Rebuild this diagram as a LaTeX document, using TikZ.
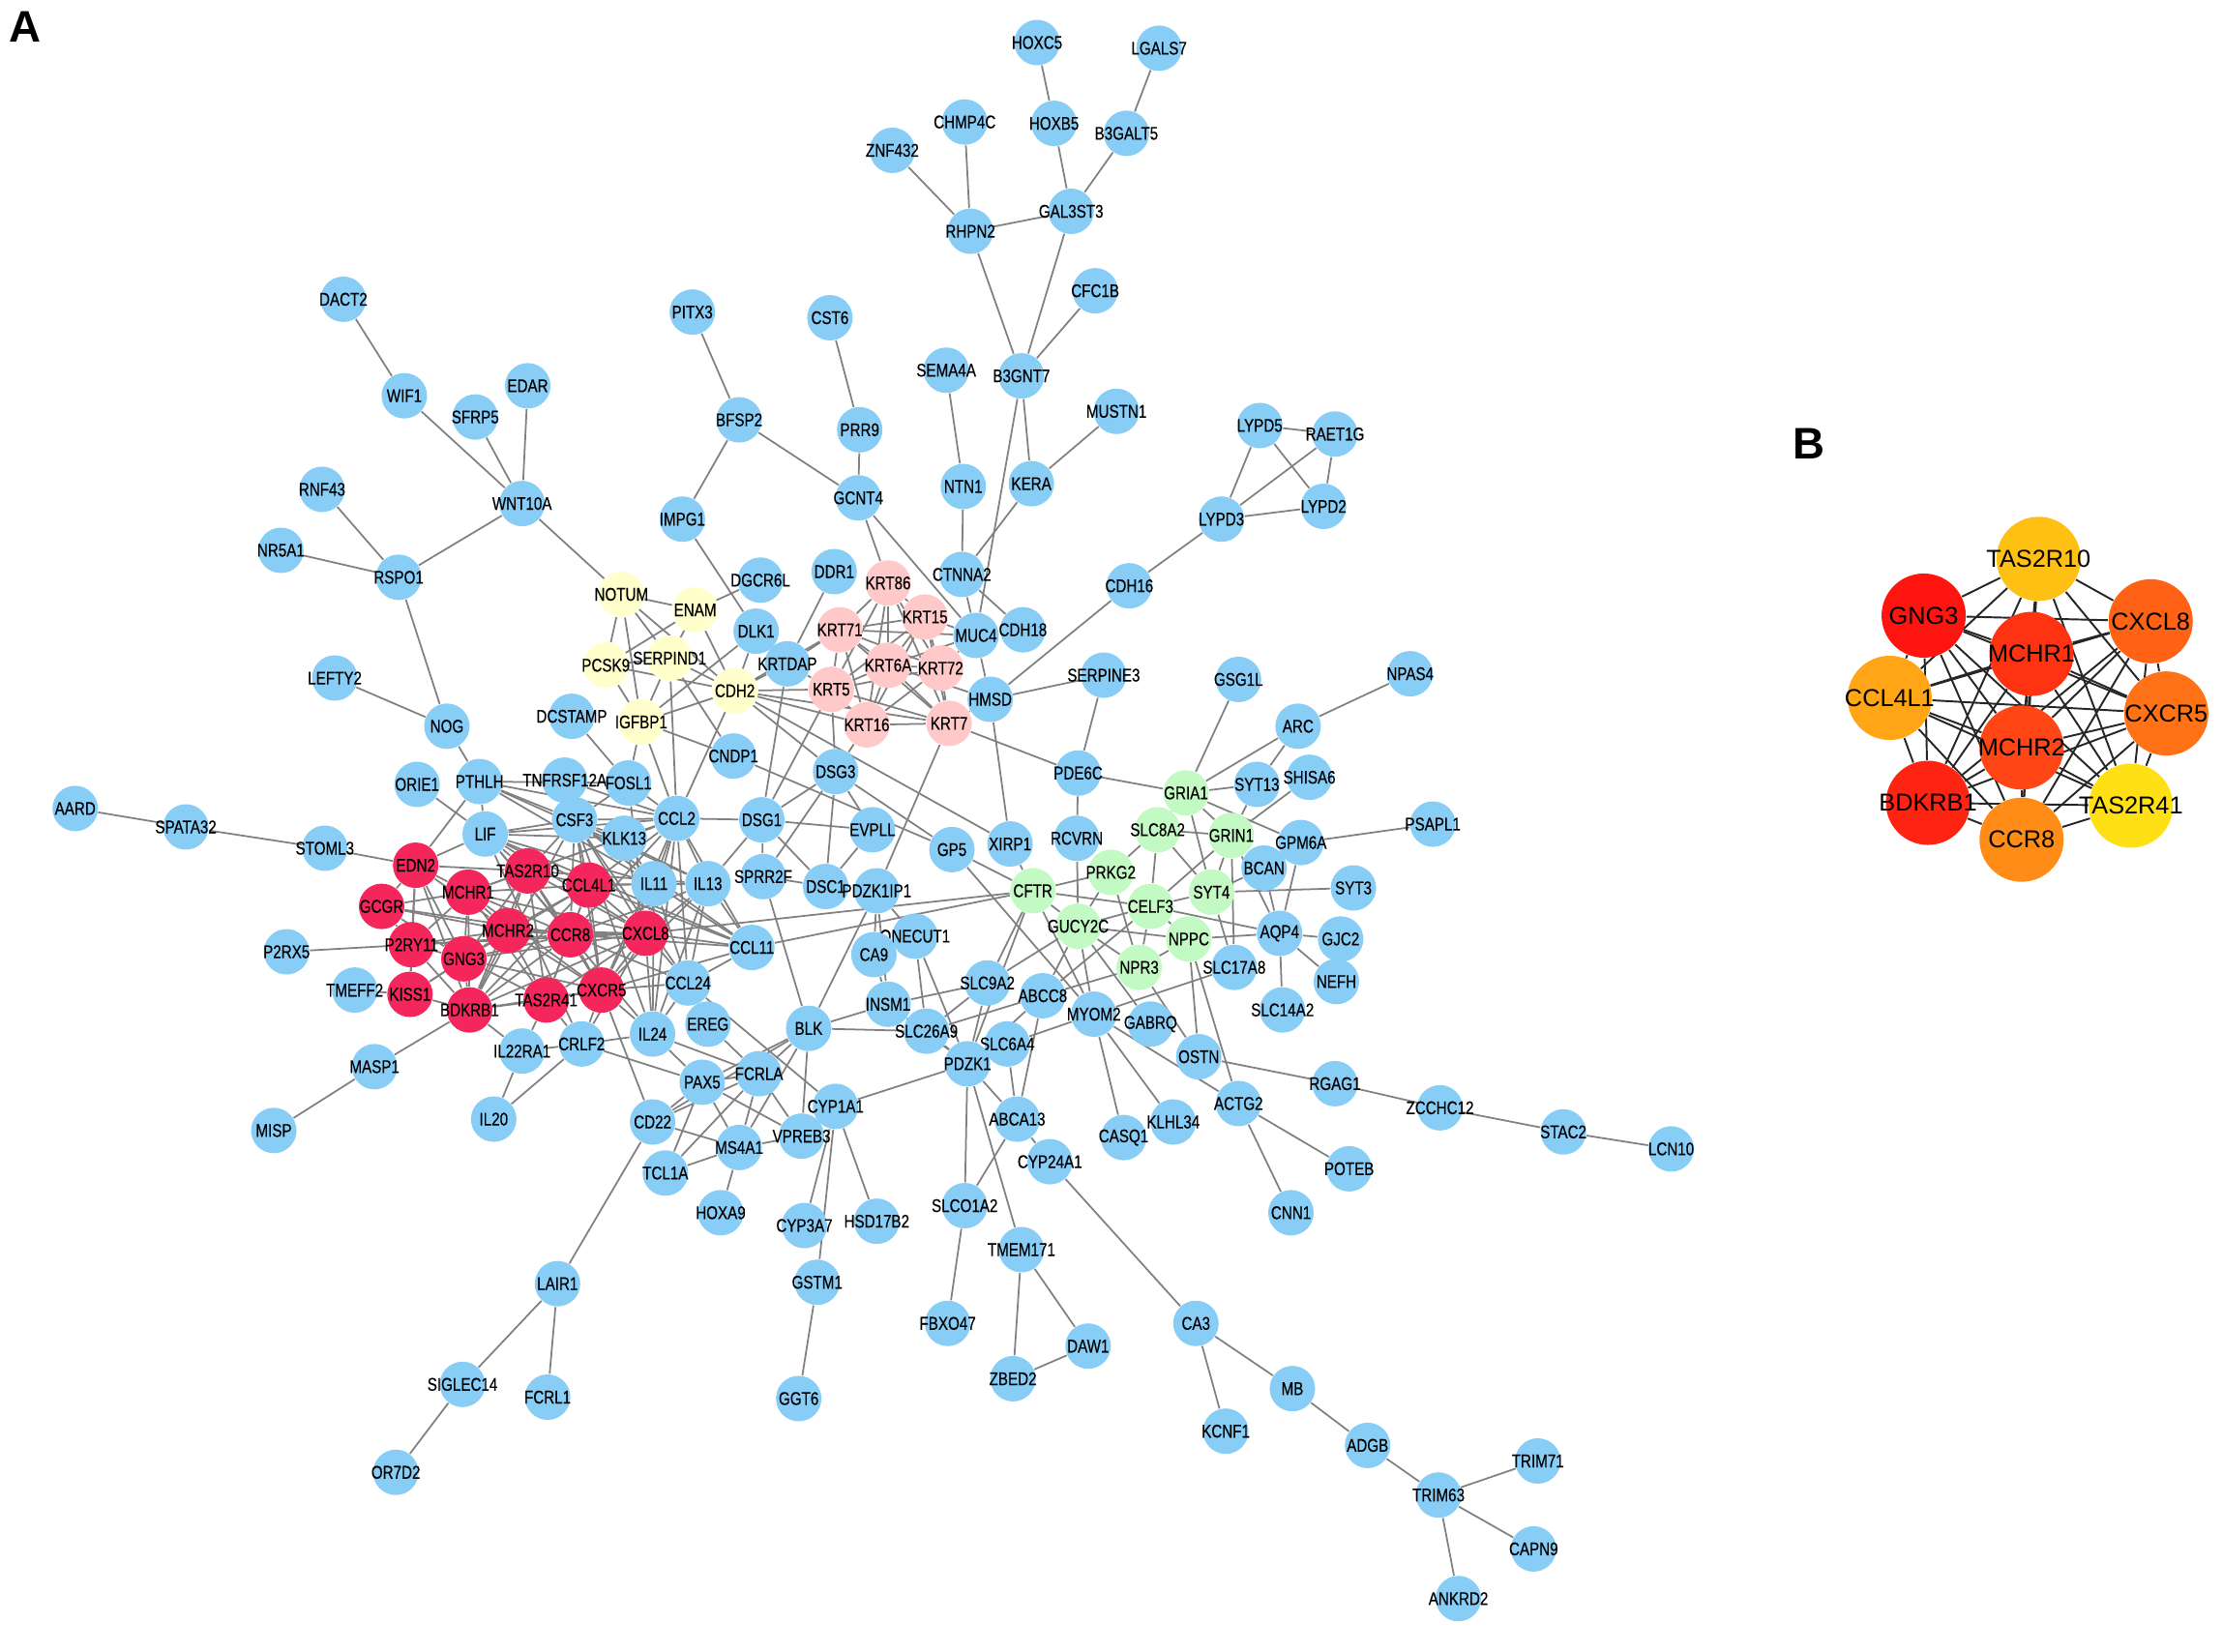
\documentclass[tikz,border=0pt]{standalone}
\usepackage{fontspec}
\setmainfont[FakeStretch=.8,FakeBold=.4]{Liberation Sans}
\newfontfamily\hubfont{Liberation Sans}
\usetikzlibrary{positioning,backgrounds}
\definecolor{genebl}{HTML}{87CDF5}
\definecolor{genered}{HTML}{F5265C}
\definecolor{geneye}{HTML}{FFFFCC}
\definecolor{genepk}{HTML}{FFC9C9}
\definecolor{genegr}{HTML}{C3FAC3}
\definecolor{edgegr}{HTML}{808080}

\begin{document}
\begin{tikzpicture}
  [x=.014665cm,y=-.014665cm,
   every node/.style={circle,fill=genebl,inner xsep=-.24cm,inner ysep=-.06cm,minimum size=.47cm,
     font=\fontsize{5.4}{5.4}\selectfont},
   rednode/.style={fill=genered},
   yenode/.style={fill=geneye},
   pknode/.style={fill=genepk},
   grnode/.style={fill=genegr},
   hubnode/.style={inner xsep=-.35cm,inner ysep=-.09cm,minimum size=.87cm,font=\hubfont\fontsize{7.2}{7.2}\selectfont},
   panellabel/.style={fill=none,font=\hubfont\bfseries\fontsize{13}{13}\selectfont}]
  \useasboundingbox (0,0) rectangle (1567,1164);

  \node[panellabel] (labA) at (18,19) {A};
  \node[panellabel] (labB) at (1275,313) {B};

  \node (HOXC5) at (731,30) {HOXC5};
  \node (LGALS7) at (817,34) {LGALS7};
  \node (CHMP4C) at (680,86) {CHMP4C};
  \node (HOXB5) at (743,87) {HOXB5};
  \node (B3GALT5) at (794,94) {B3GALT5};
  \node (ZNF432) at (629,106) {ZNF432};
  \node (GAL3ST3) at (755,149) {GAL3ST3};
  \node (RHPN2) at (684,163) {RHPN2};
  \node (CFC1B) at (772,205) {CFC1B};
  \node (DACT2) at (242,211) {DACT2};
  \node (PITX3) at (488,220) {PITX3};
  \node (CST6) at (585,224) {CST6};
  \node (SEMA4A) at (667,261) {SEMA4A};
  \node (B3GNT7) at (720,265) {B3GNT7};
  \node (WIF1) at (285,279) {WIF1};
  \node (EDAR) at (372,272) {EDAR};
  \node (SFRP5) at (335,294) {SFRP5};
  \node (BFSP2) at (521,296) {BFSP2};
  \node (MUSTN1) at (787,290) {MUSTN1};
  \node (LYPD5) at (888,300) {LYPD5};
  \node (RAET1G) at (941,306) {RAET1G};
  \node (PRR9) at (606,303) {PRR9};
  \node (KERA) at (727,341) {KERA};
  \node (NTN1) at (679,343) {NTN1};
  \node (RNF43) at (227,345) {RNF43};
  \node (GCNT4) at (605,351) {GCNT4};
  \node (LYPD2) at (933,357) {LYPD2};
  \node (LYPD3) at (861,366) {LYPD3};
  \node (WNT10A) at (368,355) {WNT10A};
  \node (IMPG1) at (481,366) {IMPG1};
  \node (NR5A1) at (198,388) {NR5A1};
  \node (RSPO1) at (281,407) {RSPO1};
  \node (CDH16) at (796,413) {CDH16};
  \node (LEFTY2) at (236,478) {LEFTY2};
  \node (SERPINE3) at (778,476) {SERPINE3};
  \node (GSG1L) at (873,479) {GSG1L};
  \node (NPAS4) at (994,475) {NPAS4};
  \node (ARC) at (915,512) {ARC};
  \node (AARD) at (53,570) {AARD};
  \node (SPATA32) at (131,583) {SPATA32};
  \node (PSAPL1) at (1010,581) {PSAPL1};
  \node (P2RX5) at (202,671) {P2RX5};
  \node (NOG) at (315,512) {NOG};
  \node (ORIE1) at (294,553) {ORIE1};
  \node (PTHLH) at (338,551) {PTHLH};
  \node (TNFRSF12A) at (398,550) {TNFRSF12A};
  \node (FOSL1) at (443,552) {FOSL1};
  \node (CSF3) at (405,578) {CSF3};
  \node (CCL2) at (477,577) {CCL2};
  \node (LIF) at (342,588) {LIF};
  \node (KLK13) at (440,591) {KLK13};
  \node (STOML3) at (229,598) {STOML3};
  \node (IL11) at (461,623) {IL11};
  \node (IL13) at (499,623) {IL13};
  \node (CCL11) at (530,668) {CCL11};
  \node (CCL24) at (485,693) {CCL24};
  \node (TMEFF2) at (250,698) {TMEFF2};
  \node (EREG) at (499,722) {EREG};
  \node (IL24) at (460,729) {IL24};
  \node (CRLF2) at (410,736) {CRLF2};
  \node (IL22RA1) at (368,741) {IL22RA1};
  \node (MASP1) at (264,752) {MASP1};
  \node (PAX5) at (495,763) {PAX5};
  \node (FCRLA) at (535,757) {FCRLA};
  \node (MISP) at (193,797) {MISP};
  \node (IL20) at (348,789) {IL20};
  \node (DGCR6L) at (536,409) {DGCR6L};
  \node (DDR1) at (588,403) {DDR1};
  \node (CTNNA2) at (678,405) {CTNNA2};
  \node (DLK1) at (533,445) {DLK1};
  \node (MUC4) at (688,448) {MUC4};
  \node (CDH18) at (721,444) {CDH18};
  \node (KRTDAP) at (555,468) {KRTDAP};
  \node (HMSD) at (698,493) {HMSD};
  \node (DCSTAMP) at (403,505) {DCSTAMP};
  \node (CNDP1) at (517,533) {CNDP1};
  \node (DSG3) at (589,544) {DSG3};
  \node (DSG1) at (537,578) {DSG1};
  \node (EVPLL) at (615,585) {EVPLL};
  \node (GP5) at (671,599) {GP5};
  \node (XIRP1) at (712,595) {XIRP1};
  \node (SPRR2F) at (538,618) {SPRR2F};
  \node (DSC1) at (582,625) {DSC1};
  \node (PDZK1IP1) at (618,628) {PDZK1IP1};
  \node (PDE6C) at (760,545) {PDE6C};
  \node (SYT13) at (886,553) {SYT13};
  \node (SHISA6) at (923,548) {SHISA6};
  \node (GPM6A) at (917,594) {GPM6A};
  \node (RCVRN) at (759,591) {RCVRN};
  \node (BCAN) at (891,612) {BCAN};
  \node (SYT3) at (954,626) {SYT3};
  \node (AQP4) at (902,658) {AQP4};
  \node (GJC2) at (945,662) {GJC2};
  \node (SLC17A8) at (870,682) {SLC17A8};
  \node (NEFH) at (942,692) {NEFH};
  \node (ONECUT1) at (645,660) {ONECUT1};
  \node (CA9) at (616,673) {CA9};
  \node (SLC9A2) at (696,693) {SLC9A2};
  \node (ABCC8) at (735,702) {ABCC8};
  \node (MYOM2) at (771,715) {MYOM2};
  \node (SLC14A2) at (904,712) {SLC14A2};
  \node (GABRQ) at (811,722) {GABRQ};
  \node (INSM1) at (626,708) {INSM1};
  \node (SLC26A9) at (653,727) {SLC26A9};
  \node (BLK) at (570,725) {BLK};
  \node (SLC6A4) at (710,736) {SLC6A4};
  \node (OSTN) at (845,745) {OSTN};
  \node (RGAG1) at (941,764) {RGAG1};
  \node (PDZK1) at (682,750) {PDZK1};
  \node (ACTG2) at (873,778) {ACTG2};
  \node (ABCA13) at (717,789) {ABCA13};
  \node (ZCCHC12) at (1015,781) {ZCCHC12};
  \node (STAC2) at (1102,798) {STAC2};
  \node (LCN10) at (1178,810) {LCN10};
  \node (CYP1A1) at (589,780) {CYP1A1};
  \node (CD22) at (460,791) {CD22};
  \node (VPREB3) at (565,801) {VPREB3};
  \node (MS4A1) at (521,809) {MS4A1};
  \node (TCL1A) at (469,827) {TCL1A};
  \node (CASQ1) at (792,802) {CASQ1};
  \node (KLHL34) at (827,791) {KLHL34};
  \node (CYP24A1) at (740,819) {CYP24A1};
  \node (POTEB) at (951,824) {POTEB};
  \node (HOXA9) at (508,855) {HOXA9};
  \node (CNN1) at (910,855) {CNN1};
  \node (SLCO1A2) at (680,850) {SLCO1A2};
  \node (HSD17B2) at (618,861) {HSD17B2};
  \node (CYP3A7) at (567,864) {CYP3A7};
  \node (TMEM171) at (720,881) {TMEM171};
  \node (GSTM1) at (576,904) {GSTM1};
  \node (LAIR1) at (393,905) {LAIR1};
  \node (FBXO47) at (668,933) {FBXO47};
  \node (CA3) at (843,933) {CA3};
  \node (DAW1) at (767,949) {DAW1};
  \node (ZBED2) at (714,972) {ZBED2};
  \node (SIGLEC14) at (326,976) {SIGLEC14};
  \node (MB) at (911,979) {MB};
  \node (FCRL1) at (386,985) {FCRL1};
  \node (GGT6) at (563,986) {GGT6};
  \node (KCNF1) at (864,1009) {KCNF1};
  \node (ADGB) at (964,1019) {ADGB};
  \node (TRIM71) at (1084,1030) {TRIM71};
  \node (OR7D2) at (279,1038) {OR7D2};
  \node (TRIM63) at (1014,1054) {TRIM63};
  \node (CAPN9) at (1081,1092) {CAPN9};
  \node (ANKRD2) at (1028,1127) {ANKRD2};

  \node[rednode] (EDN2) at (293,610) {EDN2};
  \node[rednode] (TAS2R10) at (372,614) {TAS2R10};
  \node[rednode] (CCL4L1) at (415,624) {CCL4L1};
  \node[rednode] (MCHR1) at (330,629) {MCHR1};
  \node[rednode] (GCGR) at (269,639) {GCGR};
  \node[rednode] (MCHR2) at (358,656) {MCHR2};
  \node[rednode] (CCR8) at (402,659) {CCR8};
  \node[rednode] (CXCL8) at (455,658) {CXCL8};
  \node[rednode] (P2RY11) at (290,666) {P2RY11};
  \node[rednode] (GNG3) at (327,676) {GNG3};
  \node[rednode] (KISS1) at (289,701) {KISS1};
  \node[rednode] (TAS2R41) at (385,705) {TAS2R41};
  \node[rednode] (CXCR5) at (424,698) {CXCR5};
  \node[rednode] (BDKRB1) at (331,712) {BDKRB1};

  \node[yenode] (NOTUM) at (438,419) {NOTUM};
  \node[yenode] (ENAM) at (490,430) {ENAM};
  \node[yenode] (PCSK9) at (427,469) {PCSK9};
  \node[yenode] (SERPIND1) at (472,464) {SERPIND1};
  \node[yenode] (CDH2) at (518,487) {CDH2};
  \node[yenode] (IGFBP1) at (452,509) {IGFBP1};

  \node[pknode] (KRT86) at (626,411) {KRT86};
  \node[pknode] (KRT15) at (652,435) {KRT15};
  \node[pknode] (KRT71) at (592,444) {KRT71};
  \node[pknode] (KRT6A) at (626,469) {KRT6A};
  \node[pknode] (KRT72) at (663,471) {KRT72};
  \node[pknode] (KRT5) at (586,486) {KRT5};
  \node[pknode] (KRT16) at (611,511) {KRT16};
  \node[pknode] (KRT7) at (669,510) {KRT7};

  \node[grnode] (GRIA1) at (836,559) {GRIA1};
  \node[grnode] (SLC8A2) at (816,585) {SLC8A2};
  \node[grnode] (GRIN1) at (868,589) {GRIN1};
  \node[grnode] (PRKG2) at (783,615) {PRKG2};
  \node[grnode] (CFTR) at (728,628) {CFTR};
  \node[grnode] (SYT4) at (854,629) {SYT4};
  \node[grnode] (CELF3) at (811,639) {CELF3};
  \node[grnode] (GUCY2C) at (760,653) {GUCY2C};
  \node[grnode] (NPPC) at (838,662) {NPPC};
  \node[grnode] (NPR3) at (803,682) {NPR3};

  \node[hubnode,fill={rgb,255:red,255;green,192;blue,20}] (bTAS2R10) at (1437,394) {TAS2R10};
  \node[hubnode,fill={rgb,255:red,255;green,20;blue,15}] (bGNG3) at (1356,434) {GNG3};
  \node[hubnode,fill={rgb,255:red,255;green,98;blue,20}] (bCXCL8) at (1516,438) {CXCL8};
  \node[hubnode,fill={rgb,255:red,255;green,50;blue,18}] (bMCHR1) at (1432,461) {MCHR1};
  \node[hubnode,fill={rgb,255:red,255;green,165;blue,22}] (bCCL4L1) at (1332,492) {CCL4L1};
  \node[hubnode,fill={rgb,255:red,255;green,115;blue,22}] (bCXCR5) at (1527,503) {CXCR5};
  \node[hubnode,fill={rgb,255:red,255;green,70;blue,20}] (bMCHR2) at (1425,527) {MCHR2};
  \node[hubnode,fill={rgb,255:red,255;green,35;blue,18}] (bBDKRB1) at (1359,566) {BDKRB1};
  \node[hubnode,fill={rgb,255:red,255;green,224;blue,20}] (bTAS2R41) at (1502,568) {TAS2R41};
  \node[hubnode,fill={rgb,255:red,255;green,140;blue,22}] (bCCR8) at (1425,592) {CCR8};

  \begin{pgfonlayer}{background}
  \tikzset{every path/.style={draw=edgegr,line width=.5pt}}
  \foreach \from/\to in {HOXC5/HOXB5, LGALS7/B3GALT5, HOXB5/GAL3ST3, B3GALT5/GAL3ST3,
    CHMP4C/RHPN2, ZNF432/RHPN2, GAL3ST3/RHPN2, GAL3ST3/B3GNT7, RHPN2/B3GNT7, CFC1B/B3GNT7,
    SEMA4A/NTN1, B3GNT7/KERA, KERA/MUSTN1, B3GNT7/MUC4, PITX3/BFSP2, CST6/PRR9,
    PRR9/GCNT4, BFSP2/GCNT4, BFSP2/IMPG1, GCNT4/KRT86, GCNT4/MUC4, NTN1/CTNNA2, KERA/CTNNA2,
    IMPG1/DLK1, WNT10A/NOTUM, DDR1/KRTDAP, DGCR6L/ENAM, DLK1/IGFBP1, CTNNA2/CDH18, CTNNA2/MUC4,
    MUC4/HMSD, HMSD/XIRP1, HMSD/SERPINE3, HMSD/CDH16, LYPD5/RAET1G, LYPD5/LYPD3, LYPD5/LYPD2,
    RAET1G/LYPD2, RAET1G/LYPD3, LYPD2/LYPD3, LYPD3/CDH16, WIF1/DACT2, WIF1/WNT10A, SFRP5/WNT10A,
    EDAR/WNT10A, WNT10A/RSPO1, RNF43/RSPO1, NR5A1/RSPO1, RSPO1/NOG, NOG/PTHLH, LEFTY2/NOG,
    AARD/SPATA32, SPATA32/STOML3, STOML3/EDN2, ORIE1/LIF, P2RX5/P2RY11, TMEFF2/KISS1,
    MASP1/BDKRB1, MASP1/MISP, IL20/IL22RA1, IL20/CRLF2, DCSTAMP/FOSL1}
    \draw (\from) -- (\to);

  % yellow and cytokeratin groups
  \foreach \from/\to in {NOTUM/ENAM, NOTUM/PCSK9, NOTUM/SERPIND1, NOTUM/IGFBP1, NOTUM/CDH2,
    ENAM/PCSK9, ENAM/SERPIND1, ENAM/CDH2, PCSK9/SERPIND1, PCSK9/IGFBP1, PCSK9/CDH2,
    SERPIND1/IGFBP1, SERPIND1/CDH2, IGFBP1/CDH2, SERPIND1/CNDP1, IGFBP1/CNDP1, CNDP1/GP5,
    SERPIND1/CCL2, IGFBP1/CCL2, IGFBP1/FOSL1, CDH2/CCL2, CDH2/KRTDAP, CDH2/KRT5, CDH2/KRT71,
    CDH2/KRT16, CDH2/KRT7, CDH2/DSG3, CDH2/XIRP1, CDH2/DLK1, KRTDAP/DSG1, KRT5/DSG1, KRT16/DSG3,
    KRT5/DSG3, KRT7/PDZK1IP1, KRT7/PDE6C, DSG3/DSG1, DSG3/DSC1, DSG3/EVPLL, DSG3/SPRR2F,
    DSG1/SPRR2F, DSG1/DSC1, DSG1/EVPLL, DSG1/IL13, DSG1/CCL2, SPRR2F/DSC1, EVPLL/DSC1, DSG3/GP5,
    SPRR2F/BLK, PDZK1IP1/BLK, KRTDAP/KRT71, KRTDAP/KRT5, MUC4/KRT71, MUC4/KRT15,
    MUC4/KRT6A, MUC4/KRT72, HMSD/KRT6A, HMSD/KRT7}
    \draw (\from) -- (\to);
  \foreach \a [count=\i] in {KRT86,KRT15,KRT71,KRT6A,KRT72,KRT5,KRT16,KRT7} {
    \foreach \b [count=\j] in {KRT86,KRT15,KRT71,KRT6A,KRT72,KRT5,KRT16,KRT7} {
      \ifnum\i<\j \draw (\a) -- (\b); \fi
    }
  }

  % red group and its neighbours
  \foreach \a [count=\i] in {MCHR1,MCHR2,GNG3,BDKRB1,TAS2R10,TAS2R41,CCL4L1,CCR8,CXCL8,CXCR5} {
    \foreach \b [count=\j] in {MCHR1,MCHR2,GNG3,BDKRB1,TAS2R10,TAS2R41,CCL4L1,CCR8,CXCL8,CXCR5} {
      \ifnum\i<\j \draw (\a) -- (\b); \fi
    }
  }
  \foreach \from/\to in {EDN2/GCGR, EDN2/P2RY11, EDN2/MCHR1, EDN2/MCHR2, EDN2/GNG3, EDN2/KISS1,
    EDN2/BDKRB1, EDN2/TAS2R10, GCGR/P2RY11, GCGR/MCHR1, GCGR/MCHR2, GCGR/GNG3, GCGR/CCR8,
    P2RY11/KISS1, P2RY11/GNG3, P2RY11/MCHR1, P2RY11/MCHR2, P2RY11/BDKRB1, P2RY11/CCR8,
    P2RY11/CXCL8, KISS1/GNG3, KISS1/BDKRB1, KISS1/MCHR2,
    CXCL8/CCL2, CXCL8/IL11, CXCL8/IL13, CXCL8/CCL11, CXCL8/CCL24, CXCL8/IL24,
    CXCL8/CSF3, CXCL8/LIF, CXCL8/KLK13, CXCL8/FOSL1, CXCL8/CRLF2,
    CXCR5/CCL2, CXCR5/IL11, CXCR5/IL13, CXCR5/CCL11, CXCR5/CCL24, CXCR5/IL24,
    CXCR5/CRLF2, CXCR5/CD22, CXCR5/CSF3, CCR8/CCL2, CCR8/IL13, CCR8/CCL11, CCR8/CCL24,
    CCR8/CSF3, CCR8/LIF, CCL4L1/CCL2, CCL4L1/IL11, CCL4L1/IL13, CCL4L1/CCL11, CCL4L1/CSF3,
    CCL4L1/LIF, TAS2R10/CSF3, TAS2R10/LIF, TAS2R10/CCL2, TAS2R10/IL13, EDN2/LIF,
    EDN2/PTHLH, MCHR1/CCL2, BDKRB1/IL22RA1, BDKRB1/CSF3, TAS2R41/IL22RA1, TAS2R41/CRLF2,
    CSF3/LIF, CSF3/TNFRSF12A, CSF3/FOSL1, CSF3/KLK13, CSF3/CCL2, CSF3/IL11, CSF3/IL13, CSF3/CCL11,
    CSF3/CCL24, CSF3/IL24, CSF3/PTHLH, LIF/PTHLH, LIF/CCL2, LIF/KLK13, LIF/IL11,
    LIF/CCL11, LIF/IL24, LIF/CRLF2, PTHLH/CCL2,
    PTHLH/FOSL1, PTHLH/IL11, PTHLH/IL13, CCL2/FOSL1, CCL2/TNFRSF12A, CCL2/KLK13, CCL2/IL11,
    CCL2/IL13, CCL2/CCL11, CCL2/CCL24, CCL2/IL24, IL11/IL13, IL11/CCL11, IL11/CCL24,
    IL11/IL24, IL13/CCL11, IL13/CCL24, IL13/IL24, CCL11/CCL24, CCL24/IL24, IL24/CRLF2,
    CRLF2/IL22RA1, KLK13/IL11}
    \draw (\from) -- (\to);

  % lower part and green group
  \foreach \from/\to in {CCL24/CYP1A1, IL24/PAX5, CRLF2/PAX5, EREG/FCRLA, IL24/FCRLA,
    BLK/FCRLA, BLK/PAX5, BLK/CD22, FCRLA/PAX5, PAX5/CD22, FCRLA/CD22, BLK/VPREB3, BLK/MS4A1,
    FCRLA/MS4A1, FCRLA/VPREB3, FCRLA/TCL1A, PAX5/MS4A1, PAX5/VPREB3, PAX5/TCL1A, CD22/MS4A1,
    TCL1A/MS4A1, MS4A1/VPREB3, MS4A1/HOXA9, BLK/INSM1, BLK/SLC26A9, CYP1A1/PDZK1, CYP1A1/CYP3A7,
    CYP1A1/GSTM1, CYP1A1/HSD17B2, GSTM1/GGT6, CD22/LAIR1, LAIR1/SIGLEC14, LAIR1/FCRL1,
    SIGLEC14/OR7D2, PDZK1/SLC26A9, PDZK1/INSM1, PDZK1/SLC9A2, PDZK1/ABCC8, PDZK1/ABCA13,
    PDZK1/SLCO1A2, PDZK1/TMEM171, PDZK1/CFTR, ABCA13/SLC6A4, ABCA13/ABCC8, ABCA13/SLCO1A2,
    ABCA13/CYP24A1, CYP24A1/CA3, CA3/KCNF1, CA3/MB, MB/ADGB, ADGB/TRIM63, TRIM63/TRIM71,
    TRIM63/CAPN9, TRIM63/ANKRD2, TMEM171/DAW1, TMEM171/ZBED2, DAW1/ZBED2, SLCO1A2/FBXO47,
    SLC6A4/MYOM2, MYOM2/SLC17A8, MYOM2/CASQ1, MYOM2/KLHL34, MYOM2/ACTG2, ACTG2/CNN1, ACTG2/POTEB,
    ACTG2/NPPC, OSTN/NPPC, OSTN/NPR3, OSTN/RGAG1, RGAG1/ZCCHC12, ZCCHC12/STAC2, STAC2/LCN10,
    GABRQ/GUCY2C, CFTR/MYOM2, GUCY2C/MYOM2, CFTR/SLC9A2, ABCC8/GUCY2C, SLC9A2/GUCY2C, ABCC8/NPR3,
    ABCC8/CELF3, INSM1/SLC9A2, SLC26A9/ABCC8, SLC26A9/SLC9A2, CA9/INSM1, ONECUT1/SLC26A9,
    ONECUT1/PDZK1, PDZK1IP1/CA9, PDZK1IP1/ONECUT1, PDZK1IP1/INSM1, CFTR/CCL11, CFTR/CXCL8,
    GP5/CFTR, GP5/MYOM2, XIRP1/CFTR, PRKG2/CFTR, PRKG2/SLC8A2, CFTR/CELF3, CFTR/GUCY2C,
    PRKG2/GUCY2C, PRKG2/NPR3, GUCY2C/CELF3, GUCY2C/NPPC, GUCY2C/NPR3, CELF3/SYT4, CELF3/SLC8A2,
    CELF3/GRIN1, SLC8A2/GRIN1, SLC8A2/GRIA1, SLC8A2/SYT4, GRIA1/GRIN1, GRIA1/SYT4, GRIA1/SYT13,
    GRIA1/PDE6C, GRIA1/GSG1L, GRIA1/ARC, GRIA1/GPM6A, PDE6C/RCVRN, PDE6C/SERPINE3, RCVRN/GUCY2C,
    GRIN1/SYT4, GRIN1/SLC17A8, GRIN1/AQP4, GRIN1/SYT13, GRIN1/SHISA6, SYT13/ARC, SYT4/SLC17A8,
    SYT4/SYT3, SYT4/BCAN, GPM6A/PSAPL1, GPM6A/AQP4, BCAN/AQP4, AQP4/GJC2, AQP4/NEFH, AQP4/SLC14A2,
    AQP4/NPPC, AQP4/CELF3, ARC/NPAS4, NPPC/NPR3, NPPC/CELF3, NPR3/CELF3}
    \draw (\from) -- (\to);

  % panel B
  \foreach \a [count=\i] in {bTAS2R10,bGNG3,bCXCL8,bMCHR1,bCCL4L1,bCXCR5,bMCHR2,bBDKRB1,bTAS2R41,bCCR8} {
    \foreach \b [count=\j] in {bTAS2R10,bGNG3,bCXCL8,bMCHR1,bCCL4L1,bCXCR5,bMCHR2,bBDKRB1,bTAS2R41,bCCR8} {
      \ifnum\i<\j \draw[black!85,line width=.55pt] (\a) -- (\b); \fi
    }
  }
  \end{pgfonlayer}
\end{tikzpicture}
\end{document}
